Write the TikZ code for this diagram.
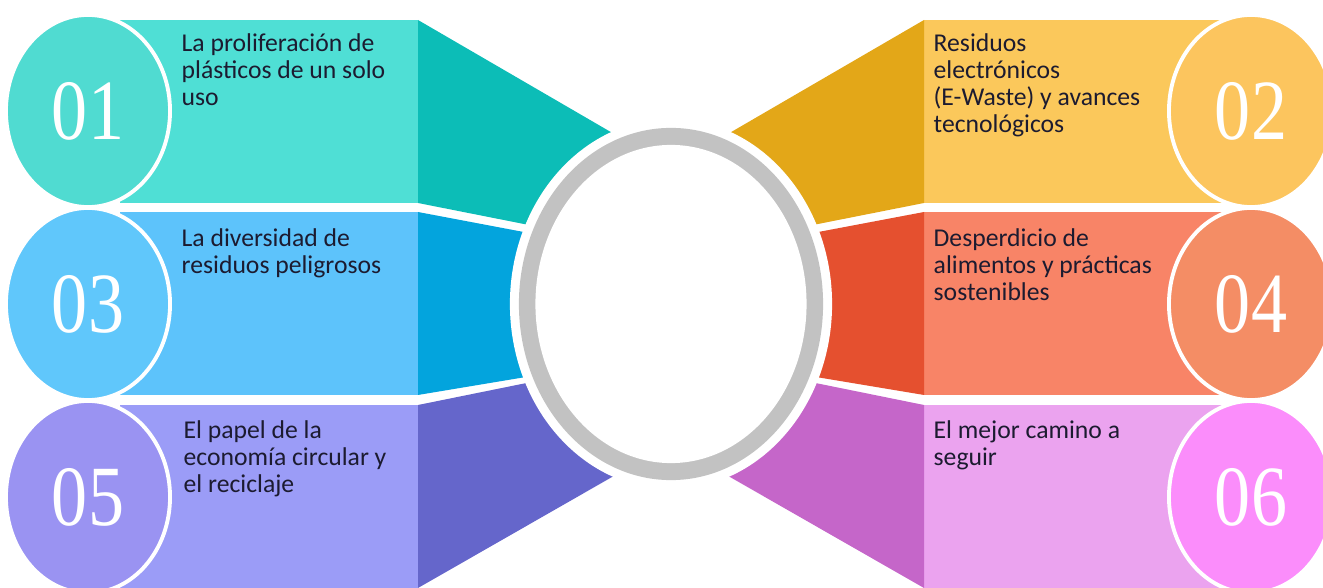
\documentclass[tikz,border=0pt]{standalone}
\usepackage{fontspec}
\setmainfont{Carlito}
\newfontfamily\numfont{Liberation Serif}
\usetikzlibrary{shapes.geometric}
\definecolor{aL}{HTML}{4FDFD5}\definecolor{aD}{HTML}{0CBDB7}\definecolor{aC}{HTML}{50DBD1}
\definecolor{bL}{HTML}{5DC3FB}\definecolor{bD}{HTML}{03A4DD}\definecolor{bC}{HTML}{60C7FB}
\definecolor{cL}{HTML}{9B9CF7}\definecolor{cD}{HTML}{6566CB}\definecolor{cC}{HTML}{9A93F2}
\definecolor{dL}{HTML}{FBC85B}\definecolor{dD}{HTML}{E3A718}\definecolor{dC}{HTML}{FCC55E}
\definecolor{eL}{HTML}{F88467}\definecolor{eD}{HTML}{E5502F}\definecolor{eC}{HTML}{F48D65}
\definecolor{fL}{HTML}{EBA3EF}\definecolor{fD}{HTML}{C566C9}\definecolor{fC}{HTML}{FB8DFB}
\definecolor{ringgray}{HTML}{C2C2C2}
\definecolor{txt}{HTML}{1C1B30}
\tikzset{
  numcirc/.style={ellipse, minimum width=1.64cm, minimum height=1.92cm, inner sep=0pt,
    draw=white, line width=1.1pt, text=white, font=\numfont\fontsize{24.4}{26}\selectfont},
  itemtext/.style={anchor=north west, align=left, text=txt, inner sep=0pt,
    font=\fontsize{7.3}{7.7}\selectfont}
}
\newcommand{\dg}[1]{\scalebox{0.84}[1]{#1}}
\newcommand{\fl}{\rule{0pt}{5.6pt}}
\begin{document}
\begin{tikzpicture}[x=0.01cm,y=-0.01cm]
\useasboundingbox (0,0) rectangle (1323,588);
% light bands
\fill[aL] (120,20) rectangle (418,203);
\fill[bL] (120,212) rectangle (418,395);
\fill[cL] (120,405) rectangle (418,588);
\fill[dL] (924,20) rectangle (1222,203);
\fill[eL] (924,212) rectangle (1222,395);
\fill[fL] (924,405) rectangle (1222,588);
% dark wedges
\fill[aD] (418,20) -- (640,149) -- (640,247) -- (418,203) -- cycle;
\fill[bD] (418,212) -- (640,254) -- (640,358) -- (418,395) -- cycle;
\fill[cD] (418,405) -- (640,360) -- (640,461) -- (418,588) -- cycle;
\fill[dD] (924,20) -- (702,149) -- (702,247) -- (924,203) -- cycle;
\fill[eD] (924,212) -- (702,254) -- (702,358) -- (924,395) -- cycle;
\fill[fD] (924,405) -- (702,360) -- (702,461) -- (924,588) -- cycle;
% ring
\fill[white] (671,304) ellipse [x radius=1.61cm, y radius=1.85cm];
\fill[ringgray] (671,304) ellipse [x radius=1.52cm, y radius=1.76cm];
\fill[white] (671,304) ellipse [x radius=1.355cm, y radius=1.59cm];
% number circles
\node[numcirc, fill=aC] (n01) at (88,111) {\dg{01}};
\node[numcirc, fill=bC] (n03) at (88,304) {\dg{03}};
\node[numcirc, fill=cC] (n05) at (88,497) {\dg{05}};
\node[numcirc, fill=dC] (n02) at (1251,111) {\dg{02}};
\node[numcirc, fill=eC] (n04) at (1251,304) {\dg{04}};
\node[numcirc, fill=fC] (n06) at (1251,497) {\dg{06}};
% texts (first baselines at 51, 246, 438)
\node[itemtext] (t01) at (181,31.3) {\fl La proliferación de\\plásticos de un solo\\uso};
\node[itemtext] (t03) at (181,226.3) {\fl La diversidad de\\residuos peligrosos};
\node[itemtext] (t05) at (183,418.3) {\fl El papel de la\\economía circular y\\el reciclaje};
\node[itemtext] (t02) at (933,31.3) {\fl Residuos\\electrónicos\\(E-Waste) y avances\\tecnológicos};
\node[itemtext] (t04) at (933,226.3) {\fl Desperdicio de\\alimentos y prácticas\\sostenibles};
\node[itemtext] (t06) at (933,418.3) {\fl El mejor camino a\\seguir};
\end{tikzpicture}
\end{document}
